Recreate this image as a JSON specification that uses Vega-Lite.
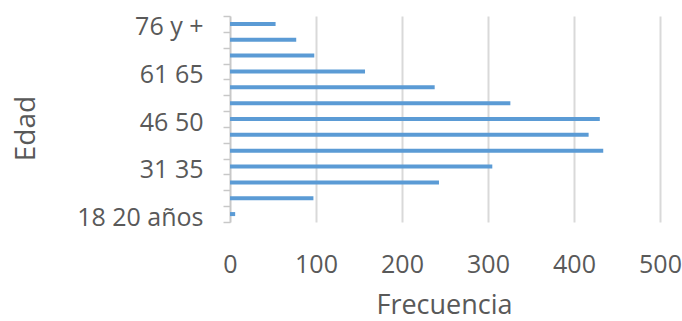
{
  "$schema": "https://vega.github.io/schema/vega-lite/v6.json",
  "width": 430,
  "height": 206,
  "autosize": {"type": "none"},
  "padding": {"left": 230, "top": 16, "right": 22, "bottom": 99},
  "background": "white",
  "config": {
    "view": {"stroke": null},
    "font": "Open Sans",
    "axis": {"labelColor": "#595959", "titleColor": "#595959", "titleFontWeight": "normal"}
  },
  "data": {
    "values": [
      {"edad": "18 20 años", "frecuencia": 6},
      {"edad": "21 25", "frecuencia": 97},
      {"edad": "26 30", "frecuencia": 243},
      {"edad": "31 35", "frecuencia": 305},
      {"edad": "36 40", "frecuencia": 434},
      {"edad": "41 45", "frecuencia": 417},
      {"edad": "46 50", "frecuencia": 430},
      {"edad": "51 55", "frecuencia": 326},
      {"edad": "56 60", "frecuencia": 238},
      {"edad": "61 65", "frecuencia": 157},
      {"edad": "66 70", "frecuencia": 98},
      {"edad": "71 75", "frecuencia": 77},
      {"edad": "76 y +", "frecuencia": 53}
    ]
  },
  "mark": {"type": "bar", "color": "#5b9bd5", "size": 4},
  "encoding": {
    "y": {
      "field": "edad",
      "type": "nominal",
      "sort": ["76 y +", "71 75", "66 70", "61 65", "56 60", "51 55", "46 50", "41 45", "36 40", "31 35", "26 30", "21 25", "18 20 años"],
      "scale": {"paddingInner": 0, "paddingOuter": 0},
      "axis": {
        "title": "Edad",
        "titleFontSize": 28,
        "titleAngle": -90,
        "titleAlign": "center",
        "titleBaseline": "middle",
        "titleX": -204,
        "titleY": 112,
        "labelFontSize": 25,
        "labelPadding": 20,
        "labelOffset": 3,
        "labelExpr": "indexof(['18 20 años', '31 35', '46 50', '61 65', '76 y +'], datum.label) >= 0 ? datum.label : ''",
        "tickBand": "extent",
        "tickSize": 7,
        "tickColor": "#c8c8c8",
        "tickWidth": 1.5,
        "domainColor": "#c8c8c8",
        "domainWidth": 1.5,
        "grid": false
      }
    },
    "x": {
      "field": "frecuencia",
      "type": "quantitative",
      "scale": {"domain": [0, 500], "nice": false},
      "axis": {
        "title": "Frecuencia",
        "titleFontSize": 27,
        "titleBaseline": "alphabetic",
        "titleX": 214,
        "titleY": 91,
        "values": [0, 100, 200, 300, 400, 500],
        "labelFontSize": 25,
        "labelBaseline": "alphabetic",
        "labelPadding": 50,
        "labelFlush": false,
        "ticks": false,
        "tickSize": 0,
        "domain": false,
        "grid": true,
        "gridColor": "#d9d9d9",
        "gridWidth": 2
      }
    }
  }
}
